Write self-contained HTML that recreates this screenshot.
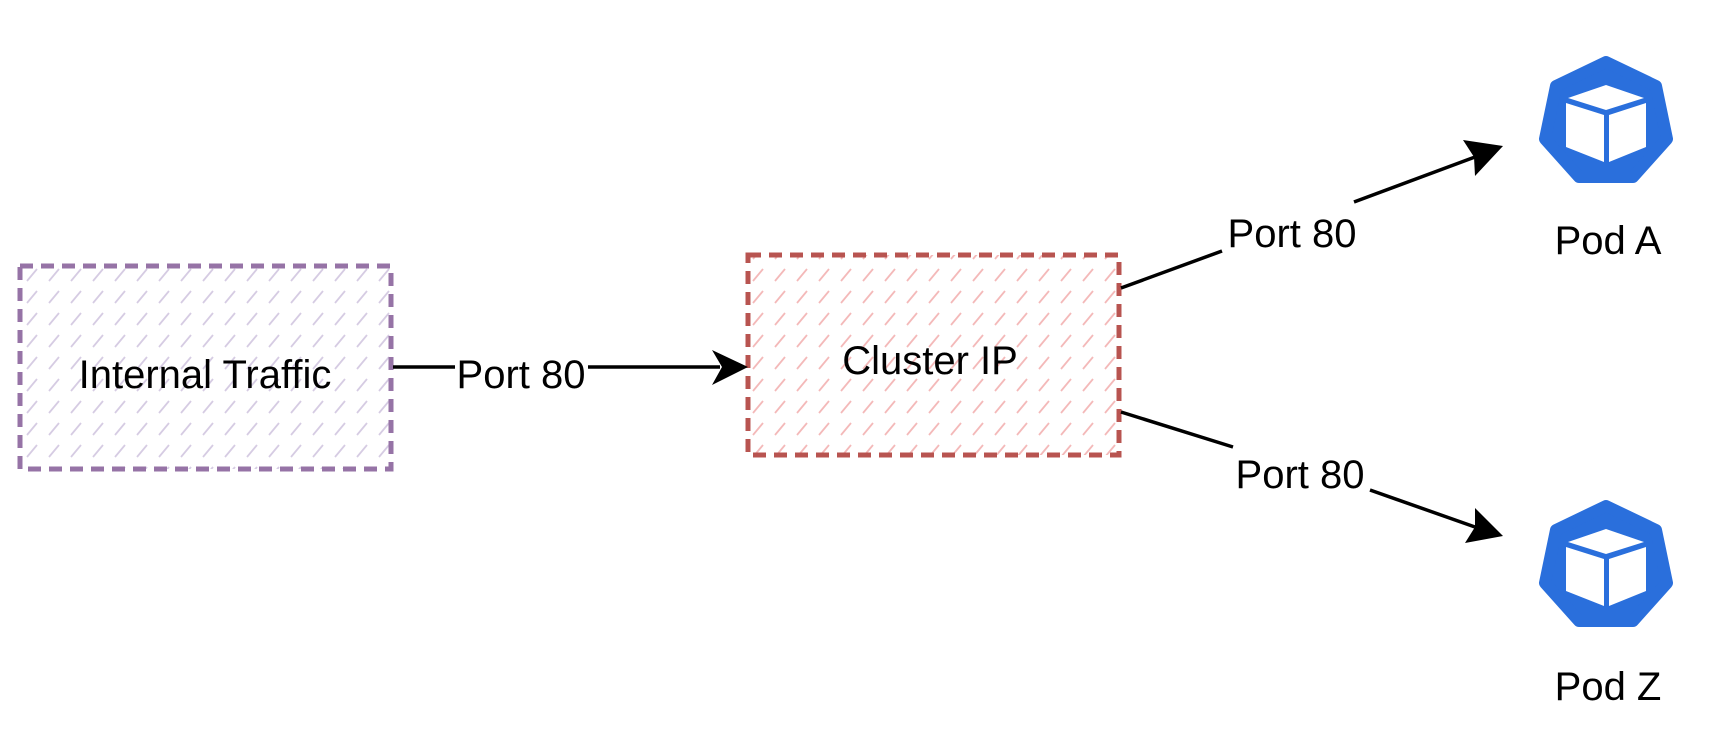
<!DOCTYPE html>
<html><head><meta charset="utf-8"><style>
html,body{margin:0;padding:0;background:#fff;}
svg{display:block;}
text{font-family:"Liberation Sans",Arial,sans-serif;font-size:40px;fill:#000;}
</style></head><body>
<svg width="1713" height="750" viewBox="0 0 1713 750" xmlns="http://www.w3.org/2000/svg">
<defs>
<pattern id="hp" width="22" height="22" patternUnits="userSpaceOnUse">
<line x1="5" y1="17" x2="15" y2="5" stroke="#d6cce3" stroke-width="1.8"/>
</pattern>
<pattern id="hr" width="22" height="22" patternUnits="userSpaceOnUse">
<line x1="5" y1="17" x2="15" y2="5" stroke="#f4b9b9" stroke-width="1.8"/>
</pattern>
<g id="pod">
<path d="M0,-60 L50,-36 L61,17 L27,55 L-27,55 L-61,17 L-50,-36 Z" fill="#2a6fdc" stroke="#2a6fdc" stroke-width="12" stroke-linejoin="round"/>
<path d="M-38,-24 L0,-37 L38,-24 L0,-12 Z" fill="#fff"/>
<path d="M-40,-19 L-2,-7 L-2,40 L-40,25 Z" fill="#fff"/>
<path d="M40,-19 L3,-7 L3,40 L40,25 Z" fill="#fff"/>
</g>
</defs>

<rect x="20" y="266" width="371" height="203" fill="url(#hp)" stroke="#9673a6" stroke-width="5" stroke-dasharray="13 8"/>
<text x="205" y="388" text-anchor="middle">Internal Traffic</text>

<rect x="748" y="255" width="371" height="200" fill="url(#hr)" stroke="#b85450" stroke-width="5" stroke-dasharray="13 8"/>
<text x="930" y="374" text-anchor="middle">Cluster IP</text>

<line x1="393" y1="367" x2="455" y2="367" stroke="#000" stroke-width="3.5"/>
<line x1="588" y1="367" x2="720" y2="367" stroke="#000" stroke-width="3.5"/>
<path d="M748,367 L712,350 L722,367 L712,385 Z" fill="#000"/>
<text x="521" y="388" text-anchor="middle">Port 80</text>

<line x1="1121" y1="288" x2="1222" y2="251" stroke="#000" stroke-width="3.5"/>
<line x1="1354" y1="202" x2="1475" y2="157" stroke="#000" stroke-width="3.5"/>
<path d="M1503,146 L1463,140 L1474,157 L1475,176 Z" fill="#000"/>
<text x="1292" y="247" text-anchor="middle">Port 80</text>

<line x1="1121" y1="412" x2="1233" y2="447" stroke="#000" stroke-width="3.5"/>
<line x1="1370" y1="490" x2="1475" y2="527" stroke="#000" stroke-width="3.5"/>
<path d="M1503,536 L1475,508 L1475,527 L1465,543 Z" fill="#000"/>
<text x="1300" y="488" text-anchor="middle">Port 80</text>

<use href="#pod" x="1606" y="122"/>
<text x="1608" y="254" text-anchor="middle">Pod A</text>
<use href="#pod" x="1606" y="566"/>
<text x="1608" y="700" text-anchor="middle">Pod Z</text>
</svg>
</body></html>
